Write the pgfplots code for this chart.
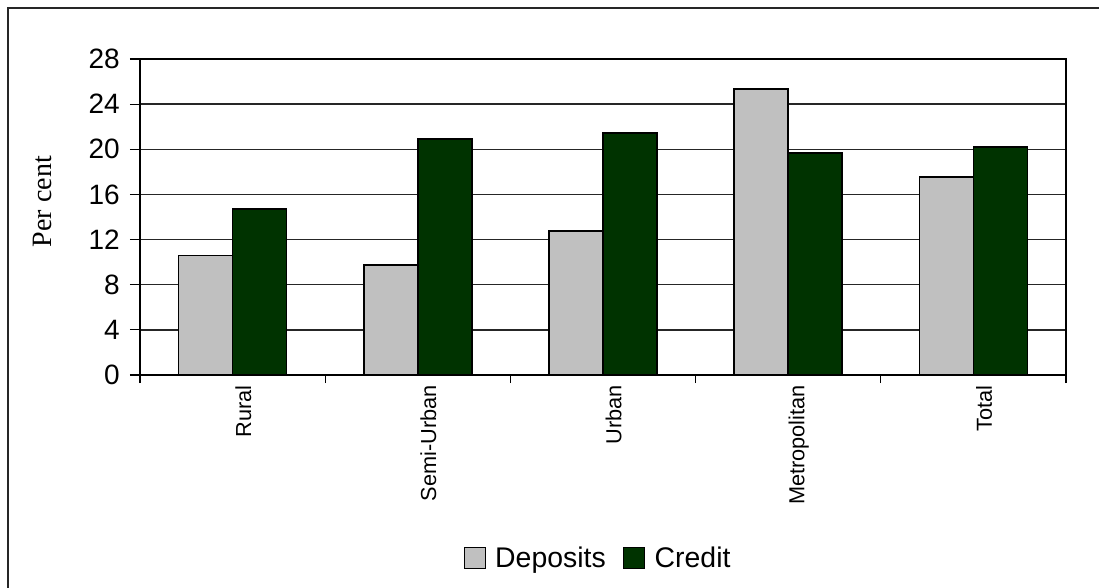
\documentclass[border=0pt]{standalone}
\usepackage{fontspec}
\setmainfont{Liberation Sans}
\newfontfamily\timesfont{Liberation Serif}
\usepackage{pgfplots}
\pgfplotsset{compat=1.18}
\definecolor{depgray}{HTML}{C0C0C0}
\definecolor{credgreen}{HTML}{003300}

\begin{document}
\begin{tikzpicture}
\begin{axis}[
  at={(105pt,159pt)}, anchor=south west,
  scale only axis, width=694.5pt, height=237pt,
  xmin=0.5, xmax=5.5, ymin=0, ymax=28,
  ybar=0pt, bar width=40.5pt,
  ytick={0,4,...,28},
  xtick={1,...,5},
  xticklabels={Rural,Semi-Urban,Urban,Metropolitan,Total},
  minor xtick={0.5,1.5,...,5.5},
  tick pos=left,
  tick align=outside,
  major tick length=7.5pt,
  minor tick length=6pt,
  major x tick style={draw=none},
  every tick/.style={black, line width=0.9pt},
  ymajorgrids,
  major grid style={black!85, line width=1pt},
  axis line style={black, line width=1pt},
  /pgf/number format/assume math mode=true,
  yticklabel style={font=\fontsize{21}{24}\selectfont, anchor=east, inner sep=0pt, xshift=-7.5pt},
  xticklabel style={font=\fontsize{16.3}{18}\selectfont, rotate=90, anchor=east, inner sep=0pt, yshift=-8pt},
  ylabel={\timesfont Per cent},
  ylabel style={font=\fontsize{21}{24}\selectfont, at={(axis description cs:-0.1053,0.549)}, rotate=0, anchor=center},
  legend style={at={(0.495,-0.579)}, anchor=center, draw=none, fill=none,
    legend columns=-1, font=\fontsize{21.3}{24}\selectfont,
    /tikz/every even column/.append style={column sep=11pt},
    /tikz/every odd column/.append style={column sep=5pt}},
  legend image code/.code={\draw[#1, line width=1pt] (0pt,-7.9pt) rectangle (15.75pt,7.9pt);},
]
\addplot[fill=depgray, draw=black, line width=1.3pt] coordinates {
  (1,10.58) (2,9.72) (3,12.74) (4,25.33) (5,17.52)
};
\addplot[fill=credgreen, draw=black, line width=1.3pt] coordinates {
  (1,14.69) (2,20.92) (3,21.43) (4,19.65) (5,20.19)
};
\legend{Deposits,Credit}
\end{axis}
\draw[line width=1.5pt, black!85] (6pt,-5pt) -- (6pt,434.25pt) -- (830pt,434.25pt);
\pgfresetboundingbox
\useasboundingbox (0,0) rectangle (824.25pt,440.25pt);
\end{tikzpicture}
\end{document}
